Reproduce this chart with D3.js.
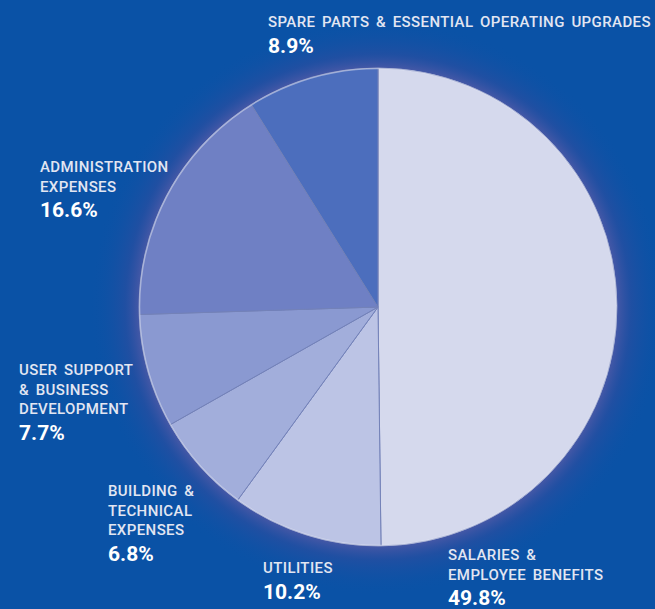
<!DOCTYPE html>
<html>
<head>
<meta charset="utf-8">
<script src="https://cdn.jsdelivr.net/npm/d3@7"></script>
<style>
  html, body { margin: 0; padding: 0; background: #0a52a6; }
  svg { display: block; }
</style>
</head>
<body>
<script>
const categories = ["SALARIES & EMPLOYEE BENEFITS", "UTILITIES", "BUILDING & TECHNICAL EXPENSES", "USER SUPPORT & BUSINESS DEVELOPMENT", "ADMINISTRATION EXPENSES", "SPARE PARTS & ESSENTIAL OPERATING UPGRADES"];
const values = [49.8, 10.2, 6.8, 7.7, 16.6, 8.9];
const labelLines = [
  ["SALARIES &", "EMPLOYEE BENEFITS"],
  ["UTILITIES"],
  ["BUILDING &", "TECHNICAL", "EXPENSES"],
  ["USER SUPPORT", "& BUSINESS", "DEVELOPMENT"],
  ["ADMINISTRATION", "EXPENSES"],
  ["SPARE PARTS & ESSENTIAL OPERATING UPGRADES"]
];
const percentLabels = ["49.8%", "10.2%", "6.8%", "7.7%", "16.6%", "8.9%"];
const sliceColors = ["#d5d9ed", "#bcc4e5", "#a2aedb", "#8a99d1", "#6f80c4", "#4c6ebd"];
// label anchor: [x, baseline of first line]
const labelPos = [[448, 560], [263, 573], [108, 496], [19, 375], [40, 172], [268, 27]];

const W = 655, H = 609, cx = 378, cy = 307, R = 239;

const svg = d3.select("body").append("svg").attr("width", W).attr("height", H);
svg.append("rect").attr("width", W).attr("height", H).attr("fill", "#0a52a6");

const defs = svg.append("defs");
const glow = defs.append("radialGradient").attr("id", "glow")
  .attr("gradientUnits", "userSpaceOnUse").attr("cx", cx).attr("cy", cy).attr("r", R + 50);
glow.append("stop").attr("offset", 0).attr("stop-color", "#6a6cb4").attr("stop-opacity", 0.0);
glow.append("stop").attr("offset", (R - 2) / (R + 50)).attr("stop-color", "#5c5ca8").attr("stop-opacity", 0.8);
glow.append("stop").attr("offset", (R + 14) / (R + 50)).attr("stop-color", "#3a4c9e").attr("stop-opacity", 0.45);
glow.append("stop").attr("offset", 1).attr("stop-color", "#0a52a6").attr("stop-opacity", 0);

svg.append("circle").attr("cx", cx).attr("cy", cy).attr("r", R + 50).attr("fill", "url(#glow)");

const pie = d3.pie().sort(null).value(d => d)(values);
const arc = d3.arc().innerRadius(0).outerRadius(R);

const g = svg.append("g").attr("transform", `translate(${cx},${cy})`);
g.selectAll("path.slice").data(pie).join("path")
  .attr("class", "slice")
  .attr("d", arc)
  .attr("fill", (d, i) => sliceColors[i])
  .attr("stroke", "#7482b8")
  .attr("stroke-width", 1)
  .attr("stroke-linejoin", "round");

// light rim
g.append("circle").attr("r", R - 0.5).attr("fill", "none")
  .attr("stroke", "#e4e8f6").attr("stroke-opacity", 0.5).attr("stroke-width", 1.5);

const labels = svg.append("g").attr("font-family", "Roboto, 'DejaVu Sans', sans-serif");
labelLines.forEach((lines, i) => {
  const [x, y] = labelPos[i];
  const t = labels.append("g");
  lines.forEach((ln, j) => {
    t.append("text").attr("x", x).attr("y", y + j * 19.5)
      .attr("font-size", 15).attr("font-weight", 500)
      .attr("letter-spacing", 0.4).attr("word-spacing", 2.5)
      .attr("fill", "#e2e6f2").text(ln);
  });
  t.append("text").attr("x", x).attr("y", y + (lines.length - 1) * 19.5 + 25.5)
    .attr("font-size", 21).attr("font-weight", 700)
    .attr("fill", "#ffffff").text(percentLabels[i]);
});
</script>
</body>
</html>
